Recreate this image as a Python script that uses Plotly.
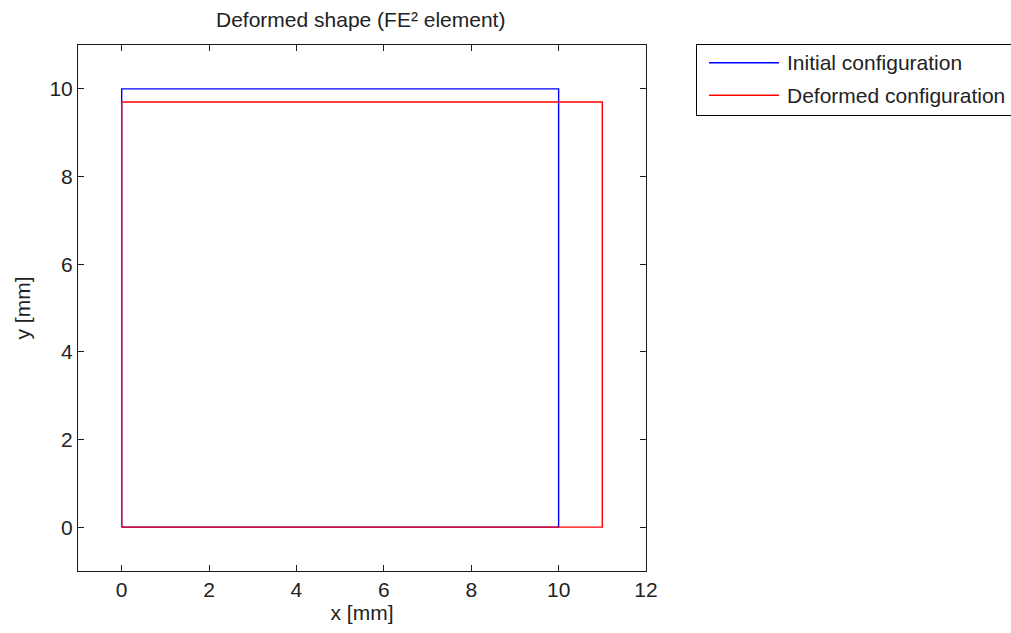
import plotly.graph_objects as go

# Node coordinates of the element outline (closed loop), in mm
initial_x = [0, 10, 10, 0, 0]
initial_y = [0, 0, 10, 10, 0]
deformed_x = [0, 11, 11, 0, 0]
deformed_y = [0, 0, 9.7, 9.7, 0]

series_names = ["Initial configuration", "Deformed configuration"]
series_colors = ["#0000ff", "#ff0000"]

x_ticks = [0, 2, 4, 6, 8, 10, 12]
y_ticks = [0, 2, 4, 6, 8, 10]

W, H = 1011, 633
ML, MR, MT, MB = 78, 365, 45, 62
PW, PH = W - ML - MR, H - MT - MB

FONT = "Liberation Sans, Arial, sans-serif"
FS = 21
AX = "#1a1a1a"


def px(xp):
    return (xp - ML) / PW


def py(yp):
    return (H - MB - yp) / PH


fig = go.Figure()
for xs, ys, name, col in [
    (initial_x, initial_y, series_names[0], series_colors[0]),
    (deformed_x, deformed_y, series_names[1], series_colors[1]),
]:
    fig.add_trace(go.Scatter(x=xs, y=ys, mode="lines", name=name,
                             line=dict(color=col, width=1.4), showlegend=False))

axis_common = dict(
    showgrid=False, zeroline=False, showline=True, linecolor=AX, linewidth=1,
    mirror="ticks", ticks="inside", ticklen=6, tickcolor=AX, tickwidth=1,
    tickfont=dict(family=FONT, size=FS, color="#222"),
)
fig.update_xaxes(range=[-1, 12], tickvals=x_ticks, **axis_common,
                 title=dict(text="x [mm]", font=dict(family=FONT, size=FS, color="#222"), standoff=4))
fig.update_yaxes(range=[-1, 11], tickvals=y_ticks, **axis_common,
                 title=dict(text="y [mm]", font=dict(family=FONT, size=FS, color="#222"), standoff=13))

# Legend box drawn by hand so its line samples match the long MATLAB style
shapes = [dict(type="rect", xref="paper", yref="paper",
               x0=px(696.5), x1=px(1040), y0=py(44.5), y1=py(115.5),
               line=dict(color="#000", width=1), fillcolor="white", layer="above")]
annotations = []
for i, (name, col) in enumerate(zip(series_names, series_colors)):
    yl = [62.7, 95.3][i]
    shapes.append(dict(type="line", xref="paper", yref="paper",
                       x0=px(709), x1=px(779), y0=py(yl), y1=py(yl),
                       line=dict(color=col, width=1.4), layer="above"))
    annotations.append(dict(text=name, xref="paper", yref="paper",
                            x=px(785), y=py(yl), xanchor="left", yanchor="middle",
                            showarrow=False, font=dict(family=FONT, size=FS, color="#222")))

annotations.append(dict(text="Deformed shape (FE² element)", xref="paper", yref="paper",
                        x=px(360), y=py(19.5), xanchor="center", yanchor="middle",
                        showarrow=False, font=dict(family=FONT, size=FS, color="#222")))

fig.update_layout(
    width=W, height=H, margin=dict(l=ML, r=MR, t=MT, b=MB, autoexpand=False),
    paper_bgcolor="white", plot_bgcolor="white",
    shapes=shapes, annotations=annotations, showlegend=False,
)

fig.write_html("out.html")
